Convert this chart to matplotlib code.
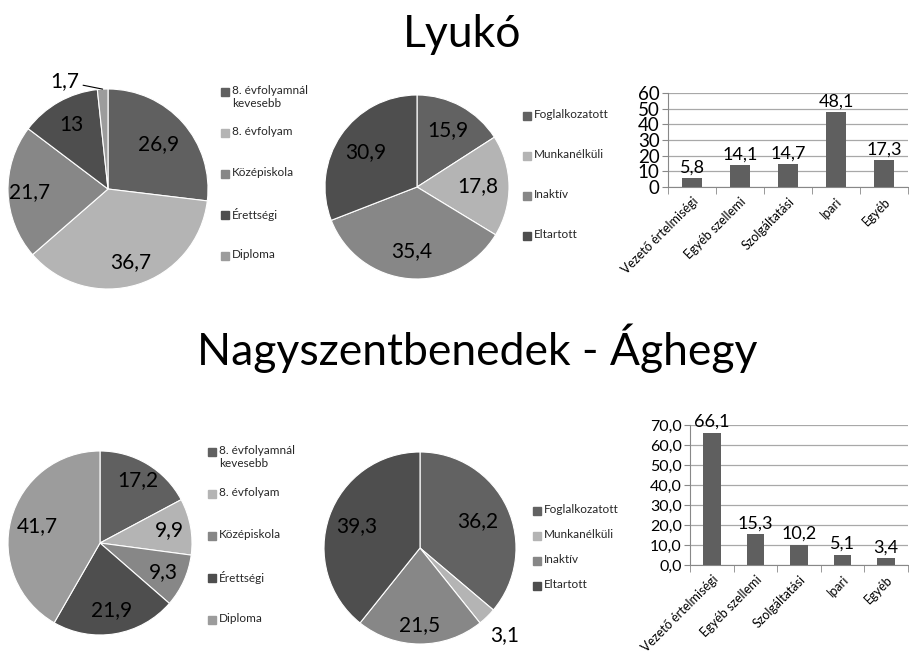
import numpy as np
import matplotlib.pyplot as plt
from matplotlib.patches import Rectangle

plt.rcParams['font.family'] = ['Lato', 'DejaVu Sans']

# Data
edu_labels = ['8. évfolyamnál\nkevesebb', '8. évfolyam', 'Középiskola', 'Érettségi', 'Diploma']
work_labels = ['Foglalkozatott', 'Munkanélküli', 'Inaktív', 'Eltartott']
job_labels = ['Vezető értelmiségi', 'Egyéb szellemi', 'Szolgáltatási', 'Ipari', 'Egyéb']

lyuko_edu = [26.9, 36.7, 21.7, 13, 1.7]
lyuko_work = [15.9, 17.8, 35.4, 30.9]
lyuko_job = [5.8, 14.1, 14.7, 48.1, 17.3]

nagy_edu = [17.2, 9.9, 9.3, 21.9, 41.7]
nagy_work = [36.2, 3.1, 21.5, 39.3]
nagy_job = [66.1, 15.3, 10.2, 5.1, 3.4]

edu_colors = ['#606060', '#b4b4b4', '#878787', '#4e4e4e', '#9c9c9c']
work_colors = ['#626262', '#b4b4b4', '#878787', '#4e4e4e']
bar_color = '#5f5f5f'

W, H = 909, 665
fig = plt.figure(figsize=(W / 100, H / 100), dpi=100)


def fmt(v, nd=None):
    s = f'{v:.{nd}f}' if nd is not None else f'{v:g}'
    return s.replace('.', ',')


def pie_chart(cx, cy, r, values, colors, dist, outside=None):
    ax = fig.add_axes([(cx - r) / W, 1 - (cy + r) / H, 2 * r / W, 2 * r / H])
    wedges, _ = ax.pie(values, colors=colors, startangle=90, counterclock=False,
                       radius=1, wedgeprops=dict(edgecolor='white', linewidth=0.8))
    ax.set_xlim(-1, 1)
    ax.set_ylim(-1, 1)
    outside = outside or {}
    for i, w in enumerate(wedges):
        mid = np.deg2rad((w.theta1 + w.theta2) / 2)
        if i in outside:
            shift, d, leader = outside[i]
            a = mid + np.deg2rad(shift)
            pos = (d * np.cos(a), d * np.sin(a))
            if leader:
                ax.annotate(fmt(values[i]), xy=(np.cos(mid), np.sin(mid)), xytext=pos,
                            ha='center', va='center', fontsize=15, annotation_clip=False,
                            arrowprops=dict(arrowstyle='-', color='black', lw=0.8,
                                            shrinkA=1, shrinkB=0))
            else:
                ax.text(pos[0], pos[1], fmt(values[i]), ha='center', va='center',
                        fontsize=15, clip_on=False)
        else:
            ax.text(dist[i] * np.cos(mid), dist[i] * np.sin(mid), fmt(values[i]),
                    ha='center', va='center', fontsize=15)
    return ax


def legend(x, y0, step, labels, colors):
    for i, (lab, col) in enumerate(zip(labels, colors)):
        y = y0 + i * step
        fig.patches.append(Rectangle((x / W, 1 - (y + 4) / H), 8 / W, 8 / H,
                                     transform=fig.transFigure, color=col))
        fig.text((x + 11) / W, 1 - (y - 7) / H, lab, ha='left', va='top',
                 fontsize=8.5, color='#262626', linespacing=1.25)


def bar_chart(rect, values, ymax, ystep, nd=None):
    ax = fig.add_axes(rect)
    x = np.arange(len(values))
    ax.bar(x, values, width=0.4, color=bar_color, zorder=3)
    ax.set_xlim(-0.5, len(values) - 0.5)
    ax.set_ylim(0, ymax)
    ticks = np.arange(0, ymax + ystep / 2, ystep)
    ax.set_yticks(ticks)
    ax.set_yticklabels([fmt(t, nd) if nd is not None else f'{t:g}' for t in ticks],
                       fontsize=13.5 if nd is None else 11.5)
    ax.yaxis.grid(True, color='#a8a8a8', linewidth=0.9, zorder=0)
    ax.set_xticks(x)
    ax.set_xticklabels(job_labels, rotation=45, ha='right', rotation_mode='anchor',
                       fontsize=9)
    ax.set_xticks(np.arange(len(values) + 1) - 0.5, minor=True)
    ax.tick_params(axis='x', which='major', length=0, pad=6)
    ax.tick_params(axis='x', which='minor', length=5, color='#888888')
    ax.tick_params(axis='y', length=4, color='#888888', pad=2)
    for s in ['top', 'right']:
        ax.spines[s].set_visible(False)
    for s in ['left', 'bottom']:
        ax.spines[s].set_color('#888888')
    for xi, v in zip(x, values):
        ax.text(xi, v + ymax * 0.02, fmt(v, 1), ha='center', va='bottom', fontsize=13)
    return ax


# Lyukó
fig.text(462 / W, 1 - 47 / H, 'Lyukó', ha='center', va='baseline', fontsize=32)
pie_chart(108, 189, 100, lyuko_edu, edu_colors, [0.68, 0.76, 0.78, 0.74, 0.7],
          outside={4: (19, 1.16, True)})
legend(221, 92, 41, edu_labels, edu_colors)
pie_chart(417, 187, 92, lyuko_work, work_colors, [0.7, 0.66, 0.7, 0.68])
legend(523, 116, 40, work_labels, work_colors)
bar_chart([668 / W, 1 - 187 / H, 240 / W, 94 / H], lyuko_job, 60, 10)

# Nagyszentbenedek - Ághegy
fig.text(477 / W, 1 - 365 / H, 'Nagyszentbenedek - Ághegy', ha='center', va='baseline',
         fontsize=32)
pie_chart(100, 543, 92, nagy_edu, edu_colors, [0.8, 0.77, 0.76, 0.74, 0.7])
legend(208, 452, 42, edu_labels, edu_colors)
pie_chart(420, 548, 96, nagy_work, work_colors, [0.66, 0.7, 0.8, 0.7],
          outside={1: (0, 1.27, False)})
legend(533, 511, 25, work_labels, work_colors)
bar_chart([690 / W, 1 - 565 / H, 218 / W, 140 / H], nagy_job, 70, 10, nd=1)

fig.savefig('out.png', dpi=100)
